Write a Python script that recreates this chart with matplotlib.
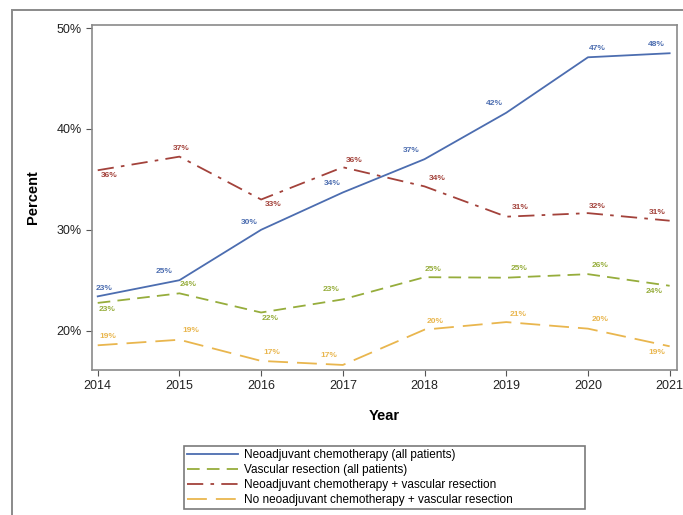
import matplotlib
matplotlib.use("Agg")
import matplotlib.pyplot as plt
from matplotlib.patches import Rectangle

years = [2014, 2015, 2016, 2017, 2018, 2019, 2020, 2021]

neo_all = [23.4, 25.0, 30.0, 33.7, 37.0, 41.6, 47.1, 47.5]
vasc_all = [22.75, 23.7, 21.8, 23.1, 25.3, 25.25, 25.6, 24.45]
neo_vasc = [35.9, 37.25, 33.0, 36.2, 34.3, 31.3, 31.65, 30.9]
noneo_vasc = [18.55, 19.1, 17.0, 16.6, 20.1, 20.85, 20.2, 18.45]

neo_all_lbl = ["23%", "25%", "30%", "34%", "37%", "42%", "47%", "48%"]
vasc_all_lbl = ["23%", "24%", "22%", "23%", "25%", "25%", "26%", "24%"]
neo_vasc_lbl = ["36%", "37%", "33%", "36%", "34%", "31%", "32%", "31%"]
noneo_vasc_lbl = ["19%", "19%", "17%", "17%", "20%", "21%", "20%", "19%"]

names = ["Neoadjuvant chemotherapy (all patients)",
         "Vascular resection (all patients)",
         "Neoadjuvant chemotherapy + vascular resection",
         "No neoadjuvant chemotherapy + vascular resection"]

yticks = [20, 30, 40, 50]

plt.rcParams['font.family'] = ['Liberation Sans', 'DejaVu Sans']

fig = plt.figure(figsize=(6.83, 5.15), dpi=100)
ax = fig.add_axes([92/683, 1 - 370/515, 585/683, 345/515])

# outer border of the original panel
fig.patches.append(Rectangle((12/683, -0.1), 1.0, 1 - 10/515 + 0.1,
                             transform=fig.transFigure, fill=False,
                             edgecolor="#8a8a8a", linewidth=1.4))

blue = "#4c6db0"
green = "#96ad3c"
red = "#a3423b"
gold = "#e9b64e"

# label offsets in pixels (dx right, dy up)
series = [
    (neo_all, neo_all_lbl, blue, "-",
     [(6, 8), (-15, 9), (-12, 7), (-11, 9), (-13, 9), (-12, 9), (9, 9), (-13, 9)]),
    (vasc_all, vasc_all_lbl, green, (0, (7, 4)),
     [(9, -7), (9, 9), (9, -6), (-12, 10), (9, 8), (13, 9), (12, 9), (-15, -6)]),
    (neo_vasc, neo_vasc_lbl, red, (0, (9, 4, 2, 4)),
     [(11, -5), (2, 8), (12, -5), (11, 7), (13, 8), (14, 9), (9, 7), (-12, 8)]),
    (noneo_vasc, noneo_vasc_lbl, gold, (0, (11, 5)),
     [(10, 9), (11, 9), (11, 8), (-14, 9), (11, 8), (12, 8), (12, 9), (-13, -6)]),
]

for (vals, lbls, col, ls, offs), name in zip(series, names):
    ax.plot(years, vals, color=col, linestyle=ls, linewidth=1.3, label=name)
    for x, y, t, (dx, dy) in zip(years, vals, lbls, offs):
        ax.annotate(t, (x, y), xytext=(dx, dy), textcoords="offset pixels",
                    ha="center", va="center", fontsize=6, color=col,
                    fontweight="bold")

ax.set_xlim(2013.93, 2021.09)
ax.set_ylim(16.1, 50.3)
ax.set_xticks(years)
ax.set_yticks(yticks)
ax.set_yticklabels([f"{v}%" for v in yticks])
ax.tick_params(direction="out", length=4, color="#555555", labelsize=9,
               labelcolor="#222222", top=False, right=False)
for s in ax.spines.values():
    s.set_color("#8a8a8a")
    s.set_linewidth(1.2)

ax.set_xlabel("Year", fontsize=10.5, fontweight="bold", labelpad=12)
ax.set_ylabel("Percent", fontsize=10.5, fontweight="bold", labelpad=12)

leg = fig.legend(loc="upper left",
                 bbox_to_anchor=(178/683, 1 - 440/515, 413/683, 0.0),
                 mode="expand", fontsize=8.5, handlelength=4.3,
                 labelspacing=0.25, borderpad=0.25, handletextpad=0.5,
                 fancybox=False, framealpha=1)
leg.get_frame().set_edgecolor("#7a7a7a")
leg.get_frame().set_linewidth(1.2)

fig.savefig("out.png", dpi=100)
